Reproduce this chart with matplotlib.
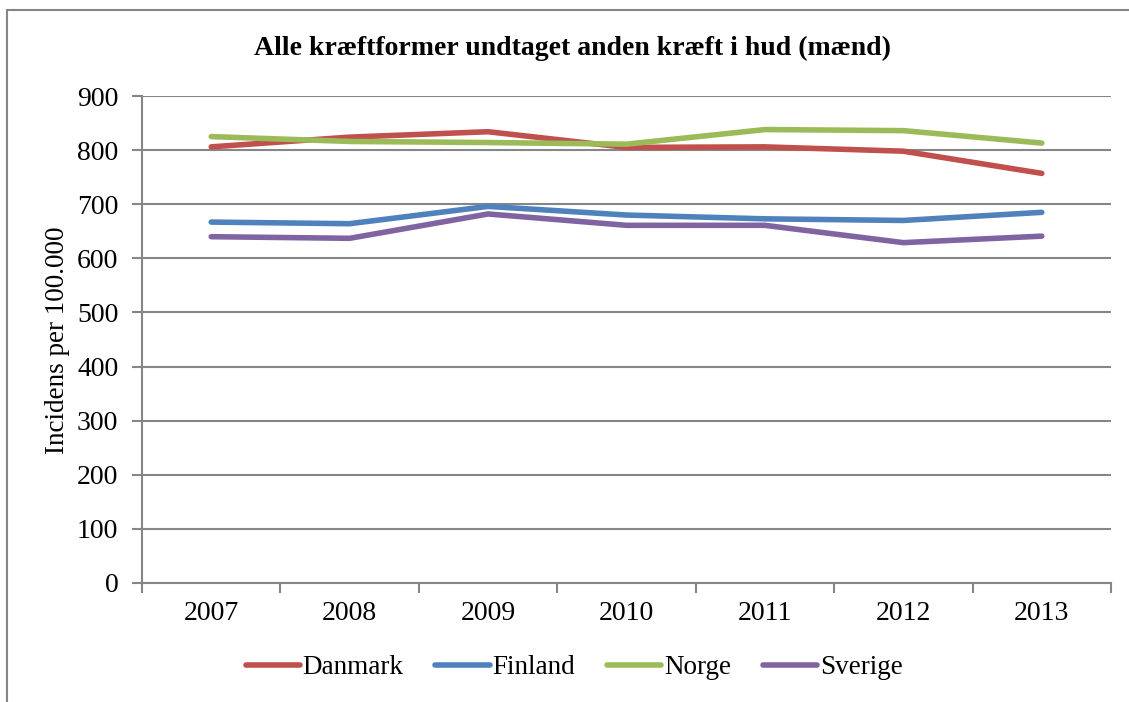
import numpy as np
import matplotlib.pyplot as plt
from matplotlib.patches import Rectangle

years = ["2007", "2008", "2009", "2010", "2011", "2012", "2013"]
danmark = [806, 824, 834, 805, 806, 798, 757]
finland = [667, 664, 696, 680, 673, 670, 685]
norge = [825, 816, 814, 811, 838, 836, 813]
sverige = [640, 637, 682, 661, 661, 629, 641]

series = [("Danmark", danmark, "#C0504D"),
          ("Finland", finland, "#4F81BD"),
          ("Norge", norge, "#9BBB59"),
          ("Sverige", sverige, "#8064A2")]

plt.rcParams["font.family"] = ["Liberation Serif", "DejaVu Serif"]
plt.rcParams["font.size"] = 20

fig = plt.figure(figsize=(11.29, 7.02), dpi=100)
ax = fig.add_axes([142 / 1129, 1 - 583 / 702, (1111 - 142) / 1129, (583 - 96) / 702])

# outer chart frame (cut off at the bottom/right like the screenshot)
fig.patches.append(Rectangle((7 / 1129, -0.05), 1.2, 1 - 10 / 702 + 0.05,
                             transform=fig.transFigure, fill=False,
                             edgecolor="#868686", linewidth=1.5))

x = np.arange(len(years))
for name, vals, col in series:
    ax.plot(x, vals, color=col, linewidth=4.0, solid_capstyle="round",
            solid_joinstyle="round", label=name)

ax.set_xlim(-0.5, len(years) - 0.5)
ax.set_ylim(0, 900)
ax.set_yticks(range(0, 901, 100))
ax.yaxis.grid(True, color="#868686", linewidth=1.5)
ax.set_axisbelow(True)

ax.set_xticks(x)
ax.set_xticklabels(years)
ax.set_xticks(np.arange(-0.5, len(years), 1.0), minor=True)
ax.tick_params(axis="x", which="major", length=0, pad=13)
ax.tick_params(axis="x", which="minor", length=7, width=1.5, color="#868686")
ax.tick_params(axis="y", length=7, width=1.5, color="#868686", pad=10)

for s in ["top", "right"]:
    ax.spines[s].set_visible(False)
for s in ["left", "bottom"]:
    ax.spines[s].set_color("#868686")
    ax.spines[s].set_linewidth(1.5)

fig.text(57 / 1129, 1 - 340 / 702, "Incidens per 100.000", rotation=90,
         ha="center", va="center", fontsize=19.5)
fig.text(573 / 1129, 1 - 48 / 702, "Alle kræftformer undtaget anden kræft i hud (mænd)",
         ha="center", va="center", fontweight="bold", fontsize=20)

fig.legend(loc="center", bbox_to_anchor=(574 / 1129, 1 - 668 / 702), ncol=4,
           frameon=False, fontsize=19.5, handlelength=2.0, handletextpad=0.1,
           columnspacing=1.18, borderaxespad=0)

fig.savefig("out.png", dpi=100)
